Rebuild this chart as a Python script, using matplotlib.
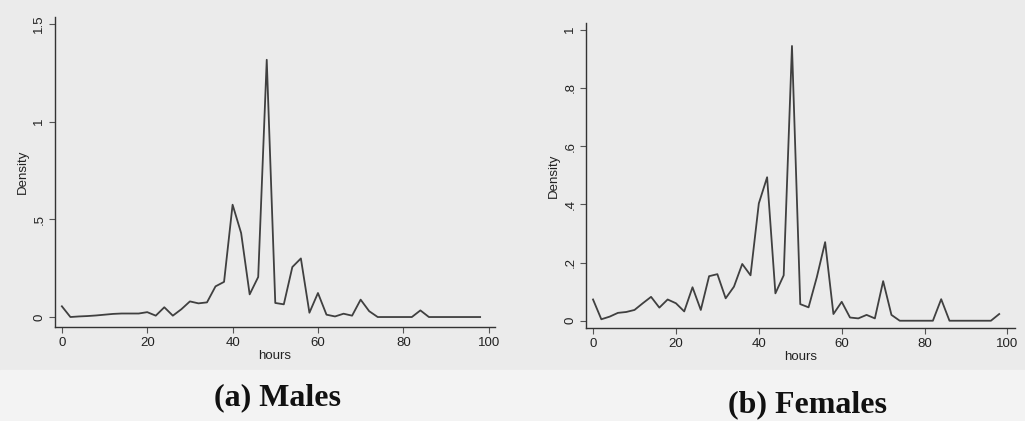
import matplotlib
matplotlib.use("Agg")
import matplotlib.pyplot as plt
from matplotlib.patches import Rectangle

# hours of work, bins every 2 hours
hours = list(range(0, 100, 2))

males = [0.055, 0.0, 0.003, 0.005, 0.008, 0.012, 0.016, 0.018, 0.018, 0.018,
         0.025, 0.007, 0.05, 0.007, 0.04, 0.08, 0.07, 0.075, 0.157, 0.18,
         0.575, 0.43, 0.116, 0.205, 1.317, 0.072, 0.065, 0.256, 0.30, 0.022,
         0.123, 0.012, 0.003, 0.017, 0.007, 0.089, 0.03, 0.0, 0.0, 0.0,
         0.0, 0.0, 0.034, 0.0, 0.0, 0.0, 0.0, 0.0, 0.0, 0.0]

females = [0.073, 0.005, 0.014, 0.027, 0.03, 0.037, 0.06, 0.082, 0.045, 0.073,
           0.06, 0.032, 0.115, 0.037, 0.153, 0.16, 0.077, 0.117, 0.195, 0.156,
           0.403, 0.493, 0.094, 0.156, 0.944, 0.057, 0.046, 0.15, 0.27, 0.023,
           0.065, 0.011, 0.008, 0.02, 0.008, 0.136, 0.02, 0.0, 0.0, 0.0,
           0.0, 0.0, 0.074, 0.0, 0.0, 0.0, 0.0, 0.0, 0.0, 0.023]

x_ticks = [0, 20, 40, 60, 80, 100]
male_yticks = [0, 0.5, 1, 1.5]
male_ylabels = ["0", ".5", "1", "1.5"]
female_yticks = [0, 0.2, 0.4, 0.6, 0.8, 1]
female_ylabels = ["0", ".2", ".4", ".6", ".8", "1"]

plt.rcParams['font.family'] = ['Liberation Sans', 'DejaVu Sans']

fig = plt.figure(figsize=(10.25, 4.21), dpi=100, facecolor="#ebebeb")
fig.patches.append(Rectangle((0, 0), 1, 0.12, transform=fig.transFigure,
                             color="#f3f3f3", zorder=0))


def draw_panel(rect, y, yticks, ylabels, xlim, ylim, caption, cap_xy):
    ax = fig.add_axes(rect)
    ax.set_facecolor("none")
    ax.plot(hours, y, color="#404040", lw=1.3)
    ax.set_xlim(*xlim)
    ax.set_ylim(*ylim)
    for s in ("top", "right"):
        ax.spines[s].set_visible(False)
    for s in ("left", "bottom"):
        ax.spines[s].set_color("#333333")
        ax.spines[s].set_linewidth(1.0)
    ax.set_xticks(x_ticks)
    ax.set_yticks(yticks)
    ax.set_yticklabels(ylabels, rotation=90, va="center")
    ax.tick_params(length=4, width=0.8, color="#555555", labelsize=9.5,
                   labelcolor="#222222", pad=3)
    ax.set_xlabel("hours", fontsize=9.5, color="#222222", labelpad=1)
    ax.set_ylabel("Density", fontsize=9.5, color="#222222", labelpad=3)
    fig.text(cap_xy[0], cap_xy[1], caption, family="Liberation Serif",
             weight="bold", fontsize=23, ha="center", va="center",
             color="#111111")
    return ax


draw_panel([0.0537, 0.2233, 0.4293, 0.7363], males, male_yticks, male_ylabels,
           (-1.6, 101.5), (-0.051, 1.536), "(a) Males", (277 / 1025, 1 - 398 / 421))
draw_panel([0.5717, 0.2209, 0.4185, 0.7245], females, female_yticks, female_ylabels,
           (-1.7, 101.8), (-0.025, 1.023), "(b) Females", (807 / 1025, 1 - 405 / 421))

fig.savefig("out.png", dpi=100, facecolor=fig.get_facecolor())
